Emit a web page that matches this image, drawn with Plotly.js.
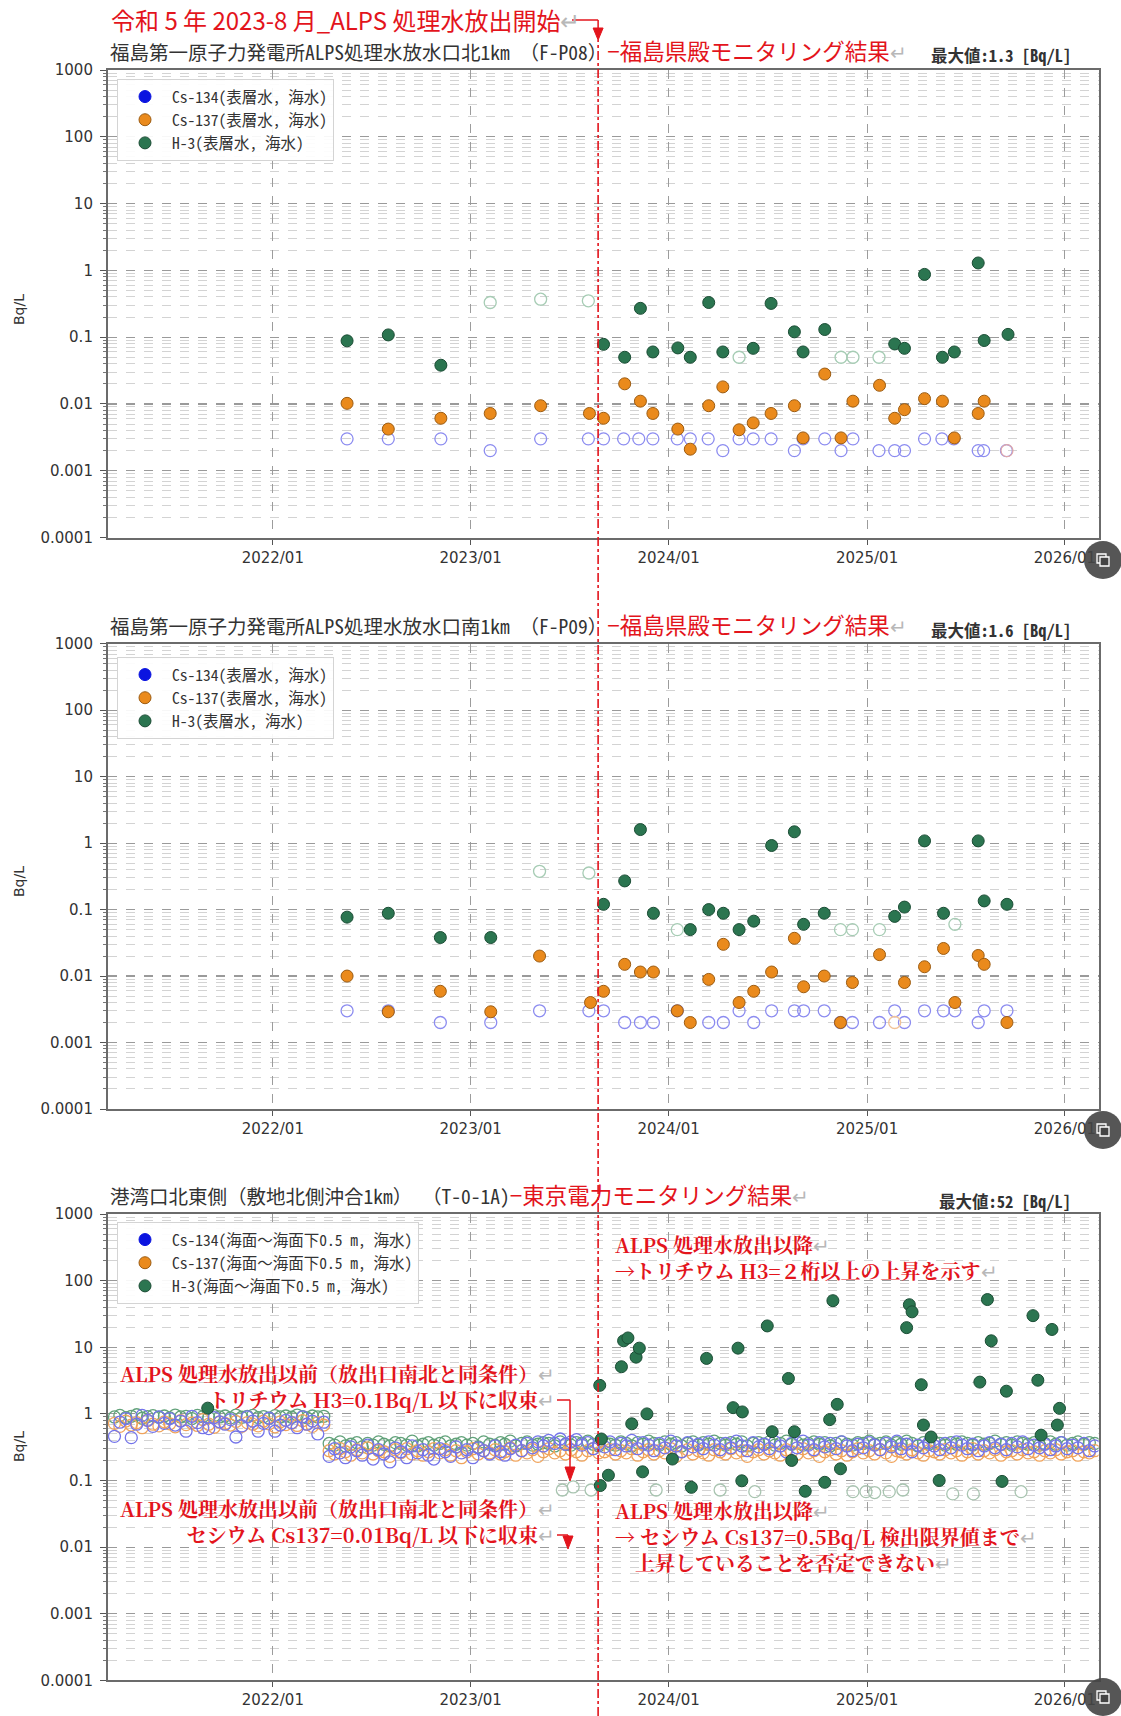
<!DOCTYPE html>
<html><head><meta charset="utf-8">
<script src="https://cdn.plot.ly/plotly-3.0.1.min.js"></script>
<style>html,body{margin:0;padding:0;background:#fff;} #chart{width:1121px;height:1716px;}</style>
</head><body><div id="chart"></div>
<script>
// ================= DATA =================
// --- F-P08 (north 1km) ---
const p08Cs134NdDates = ['2022-05-18','2022-08-02','2022-11-07','2023-02-06','2023-05-10','2023-08-06','2023-09-03','2023-10-10','2023-11-07','2023-12-03','2024-01-17','2024-02-10','2024-03-14','2024-04-10','2024-05-10','2024-06-05','2024-07-08','2024-08-20','2024-09-05','2024-10-15','2024-11-14','2024-12-06','2025-01-23','2025-02-21','2025-03-11','2025-04-17','2025-05-19','2025-06-10','2025-07-25','2025-08-04','2025-09-15'];
const p08Cs134NdVals = [0.003,0.003,0.003,0.002,0.003,0.003,0.003,0.003,0.003,0.003,0.003,0.003,0.003,0.002,0.003,0.003,0.003,0.002,0.003,0.003,0.002,0.003,0.002,0.002,0.002,0.003,0.003,0.003,0.002,0.002,0.002];
const p08Cs137Dates = ['2022-05-18','2022-08-02','2022-11-07','2023-02-06','2023-05-10','2023-08-08','2023-09-03','2023-10-12','2023-11-10','2023-12-03','2024-01-18','2024-02-10','2024-03-15','2024-04-10','2024-05-10','2024-06-05','2024-07-08','2024-08-20','2024-09-05','2024-10-15','2024-11-14','2024-12-06','2025-01-24','2025-02-21','2025-03-11','2025-04-17','2025-05-20','2025-06-11','2025-07-25','2025-08-05'];
const p08Cs137Vals = [0.0102,0.0042,0.0061,0.0072,0.0094,0.0072,0.0061,0.020,0.011,0.0072,0.0042,0.0021,0.0094,0.018,0.0041,0.0052,0.0072,0.0094,0.0031,0.028,0.0031,0.011,0.019,0.0061,0.0082,0.012,0.011,0.0031,0.0072,0.011];
const p08Cs137NdDates = ['2025-09-16'];
const p08Cs137NdVals = [0.002];
const p08H3Dates = ['2022-05-18','2022-08-02','2022-11-07','2023-09-03','2023-10-12','2023-11-10','2023-12-03','2024-01-18','2024-02-10','2024-03-15','2024-04-10','2024-06-05','2024-07-08','2024-08-20','2024-09-05','2024-10-15','2025-02-21','2025-03-11','2025-04-17','2025-05-20','2025-06-11','2025-07-25','2025-08-05','2025-09-18'];
const p08H3Vals = [0.088,0.108,0.038,0.078,0.05,0.27,0.06,0.069,0.05,0.33,0.06,0.068,0.32,0.12,0.06,0.13,0.079,0.068,0.87,0.05,0.06,1.29,0.089,0.11];
const p08H3NdDates = ['2023-02-06','2023-05-10','2023-08-06','2024-05-10','2024-11-14','2024-12-06','2025-01-23'];
const p08H3NdVals = [0.33,0.37,0.35,0.05,0.05,0.05,0.05];

// --- F-P09 (south 1km) ---
const p09Cs134NdDates = ['2022-05-18','2022-08-02','2022-11-06','2023-02-07','2023-05-08','2023-08-07','2023-09-03','2023-10-12','2023-11-10','2023-12-04','2024-01-17','2024-03-15','2024-04-11','2024-05-10','2024-06-06','2024-07-09','2024-08-20','2024-09-06','2024-10-14','2024-11-13','2024-12-05','2025-01-24','2025-02-21','2025-03-11','2025-04-17','2025-05-22','2025-06-12','2025-07-25','2025-08-05','2025-09-16'];
const p09Cs134NdVals = [0.003,0.003,0.002,0.002,0.003,0.003,0.003,0.002,0.002,0.002,0.003,0.002,0.002,0.003,0.002,0.003,0.003,0.003,0.003,0.002,0.002,0.002,0.003,0.002,0.003,0.003,0.003,0.002,0.003,0.003];
const p09Cs137Dates = ['2022-05-18','2022-08-02','2022-11-06','2023-02-07','2023-05-08','2023-08-10','2023-09-03','2023-10-12','2023-11-10','2023-12-04','2024-01-17','2024-02-10','2024-03-15','2024-04-11','2024-05-10','2024-06-06','2024-07-09','2024-08-20','2024-09-06','2024-10-14','2024-11-13','2024-12-05','2025-01-24','2025-03-11','2025-04-17','2025-05-22','2025-06-12','2025-07-25','2025-08-05','2025-09-16'];
const p09Cs137Vals = [0.01,0.0029,0.0059,0.0029,0.02,0.004,0.0059,0.015,0.0115,0.0115,0.003,0.002,0.0089,0.03,0.004,0.0059,0.0115,0.037,0.0069,0.01,0.002,0.008,0.021,0.008,0.0138,0.026,0.004,0.0204,0.015,0.002];
const p09Cs137NdDates = ['2025-02-21'];
const p09Cs137NdVals = [0.002];
const p09H3Dates = ['2022-05-18','2022-08-02','2022-11-06','2023-02-07','2023-09-03','2023-10-12','2023-11-10','2023-12-04','2024-02-10','2024-03-15','2024-04-11','2024-05-10','2024-06-06','2024-07-09','2024-08-20','2024-09-06','2024-10-14','2025-02-21','2025-03-11','2025-04-17','2025-05-22','2025-07-25','2025-08-05','2025-09-16'];
const p09H3Vals = [0.077,0.088,0.038,0.038,0.12,0.27,1.6,0.088,0.05,0.1,0.088,0.05,0.067,0.92,1.48,0.06,0.088,0.079,0.109,1.08,0.088,1.08,0.135,0.12];
const p09H3NdDates = ['2023-05-08','2023-08-07','2024-01-17','2024-11-13','2024-12-05','2025-01-24','2025-06-12'];
const p09H3NdVals = [0.377,0.355,0.05,0.05,0.05,0.05,0.06];

// --- T-0-1A (TEPCO) ---
const t01BandDates = ['2021-03-15','2021-03-25',
'2021-04-05','2021-04-15','2021-04-25','2021-05-05','2021-05-15','2021-05-25','2021-06-05','2021-06-15','2021-06-25','2021-07-05','2021-07-15','2021-07-25','2021-08-05','2021-08-15','2021-08-25','2021-09-05','2021-09-15','2021-09-25','2021-10-05','2021-10-15','2021-10-25','2021-11-05','2021-11-15','2021-11-25','2021-12-05','2021-12-15','2021-12-25',
'2022-01-05','2022-01-15','2022-01-25','2022-02-05','2022-02-15','2022-02-25','2022-03-05','2022-03-15','2022-03-25','2022-04-05','2022-04-15','2022-04-25','2022-05-05','2022-05-15','2022-05-25','2022-06-05','2022-06-15','2022-06-25','2022-07-05','2022-07-15','2022-07-25','2022-08-05','2022-08-15','2022-08-25','2022-09-05','2022-09-15','2022-09-25','2022-10-05','2022-10-15','2022-10-25','2022-11-05','2022-11-15','2022-11-25','2022-12-05','2022-12-15','2022-12-25',
'2023-01-05','2023-01-15','2023-01-25','2023-02-05','2023-02-15','2023-02-25','2023-03-05','2023-03-15','2023-03-25','2023-04-05','2023-04-15','2023-04-25','2023-05-05','2023-05-15','2023-05-25','2023-06-05','2023-06-15','2023-06-25','2023-07-05','2023-07-15','2023-07-25','2023-08-05','2023-08-15','2023-08-25','2023-09-05','2023-09-15','2023-09-25','2023-10-05','2023-10-15','2023-10-25','2023-11-05','2023-11-15','2023-11-25','2023-12-05','2023-12-15','2023-12-25',
'2024-01-05','2024-01-15','2024-01-25','2024-02-05','2024-02-15','2024-02-25','2024-03-05','2024-03-15','2024-03-25','2024-04-05','2024-04-15','2024-04-25','2024-05-05','2024-05-15','2024-05-25','2024-06-05','2024-06-15','2024-06-25','2024-07-05','2024-07-15','2024-07-25','2024-08-05','2024-08-15','2024-08-25','2024-09-05','2024-09-15','2024-09-25','2024-10-05','2024-10-15','2024-10-25','2024-11-05','2024-11-15','2024-11-25','2024-12-05','2024-12-15','2024-12-25',
'2025-01-05','2025-01-15','2025-01-25','2025-02-05','2025-02-15','2025-02-25','2025-03-05','2025-03-15','2025-03-25','2025-04-05','2025-04-15','2025-04-25','2025-05-05','2025-05-15','2025-05-25','2025-06-05','2025-06-15','2025-06-25','2025-07-05','2025-07-15','2025-07-25','2025-08-05','2025-08-15','2025-08-25','2025-09-05','2025-09-15','2025-09-25','2025-10-05','2025-10-15','2025-10-25','2025-11-05','2025-11-15','2025-11-25','2025-12-05','2025-12-15','2025-12-25',
'2026-01-05','2026-01-15','2026-01-25','2026-02-05','2026-02-15','2026-02-25'];
const t01H3NdBandVals = [
0.90,0.95,0.88,0.92,0.97,0.86,0.91,0.94,0.89,0.93,
0.87,0.96,0.90,0.92,0.85,0.95,0.91,0.88,0.94,0.90,
0.93,0.87,0.96,0.89,0.92,0.95,0.88,0.91,0.86,0.94,
0.90,0.93,0.89,0.96,0.91,0.87,0.93,0.90,0.92,
0.36,0.34,0.38,0.33,0.35,0.37,0.32,0.36,0.34,0.38,
0.35,0.33,0.37,0.36,0.34,0.39,0.33,0.35,0.37,0.34,
0.36,0.38,0.33,0.35,0.37,0.34,0.36,0.32,0.38,0.35,
0.34,0.37,0.35,0.39,0.33,0.36,0.38,0.34,0.35,0.37,
0.36,0.33,0.38,0.35,0.34,0.37,0.36,0.39,0.35,0.33,
0.37,0.35,0.34,0.38,0.36,0.33,0.37,0.35,0.39,0.36,
0.34,0.38,0.35,0.37,0.33,0.36,0.38,0.34,0.37,0.35,
0.39,0.36,0.34,0.37,0.35,0.38,0.33,0.36,0.37,0.35,
0.38,0.34,0.36,0.39,0.35,0.37,0.34,0.36,0.38,0.35,
0.37,0.33,0.36,0.38,0.35,0.34,0.37,0.36,0.39,0.35,
0.36,0.38,0.34,0.37,0.35,0.39,0.36,0.33,0.37,0.35,
0.38,0.36,0.34,0.37,0.35,0.38,0.36,0.34,0.37,0.35,
0.36,0.39,0.35,0.37,0.34,0.38,0.36,0.35,0.37,0.34,
0.36,0.38,0.35,0.37,0.34,0.36,0.38,0.35,0.37,0.36];
const t01Cs137NdBandVals = [
0.72,0.65,0.78,0.68,0.74,0.62,0.80,0.70,0.66,0.76,
0.71,0.64,0.79,0.69,0.73,0.67,0.82,0.70,0.63,0.75,
0.72,0.68,0.77,0.65,0.74,0.70,0.66,0.78,0.71,0.64,
0.76,0.69,0.73,0.67,0.79,0.70,0.65,0.74,0.68,
0.28,0.25,0.30,0.27,0.24,0.29,0.26,0.31,0.25,0.28,
0.27,0.23,0.29,0.26,0.30,0.25,0.28,0.24,0.27,0.30,
0.26,0.29,0.24,0.28,0.22,0.27,0.30,0.25,0.28,0.26,
0.29,0.25,0.27,0.31,0.24,0.28,0.26,0.29,0.23,0.27,
0.30,0.26,0.28,0.25,0.29,0.27,0.24,0.28,0.30,0.26,
0.27,0.29,0.25,0.28,0.26,0.30,0.24,0.27,0.29,0.25,
0.28,0.26,0.30,0.23,0.27,0.29,0.25,0.28,0.26,0.24,
0.29,0.27,0.25,0.30,0.26,0.28,0.23,0.27,0.29,0.25,
0.28,0.26,0.24,0.29,0.27,0.25,0.30,0.26,0.28,0.23,
0.27,0.29,0.25,0.28,0.24,0.27,0.30,0.26,0.28,0.25,
0.29,0.26,0.23,0.28,0.27,0.25,0.29,0.26,0.24,0.28,
0.27,0.25,0.29,0.26,0.28,0.24,0.27,0.30,0.25,0.28,
0.26,0.29,0.24,0.27,0.28,0.25,0.29,0.26,0.27,0.24,
0.28,0.26,0.29,0.25,0.27,0.28,0.24,0.27,0.26,0.28];
const t01Cs134NdBandVals = [
0.46,0.75,0.85,0.44,0.70,0.95,0.80,0.65,0.90,0.72,
0.85,0.68,0.78,0.55,0.92,0.74,0.62,0.60,0.88,0.76,
0.70,0.82,0.45,0.66,0.90,0.78,0.55,0.72,0.86,0.55,
0.68,0.80,0.74,0.62,0.90,0.70,0.78,0.50,0.75,
0.23,0.30,0.26,0.22,0.32,0.28,0.24,0.34,0.21,0.29,
0.25,0.19,0.31,0.27,0.22,0.33,0.26,0.29,0.24,0.21,
0.30,0.27,0.23,0.32,0.26,0.29,0.22,0.31,0.28,0.25,
0.33,0.27,0.24,0.30,0.34,0.28,0.36,0.31,0.38,0.33,
0.40,0.36,0.42,0.35,0.38,0.41,0.34,0.37,0.30,0.35,
0.32,0.38,0.29,0.36,0.33,0.40,0.30,0.37,0.34,0.28,
0.36,0.31,0.39,0.33,0.27,0.37,0.32,0.35,0.30,0.38,
0.34,0.29,0.36,0.31,0.39,0.33,0.28,0.37,0.32,0.35,
0.30,0.38,0.33,0.27,0.36,0.31,0.39,0.34,0.29,0.37,
0.32,0.36,0.30,0.38,0.33,0.28,0.35,0.31,0.37,0.34,
0.29,0.36,0.32,0.39,0.30,0.35,0.27,0.34,0.31,0.37,
0.33,0.29,0.36,0.31,0.38,0.34,0.30,0.35,0.28,0.33,
0.37,0.31,0.35,0.29,0.36,0.32,0.38,0.30,0.34,0.31,
0.35,0.29,0.33,0.37,0.30,0.34,0.31,0.36,0.28,0.33];
const t01H3NdLowDates = ['2023-06-19','2023-07-09','2023-08-11','2023-12-09','2024-04-05','2024-06-08','2024-12-06','2024-12-30','2025-01-15','2025-02-11','2025-03-08','2025-06-08','2025-07-16','2025-10-12'];
const t01H3NdLowVals = [0.072,0.08,0.072,0.072,0.072,0.068,0.068,0.068,0.066,0.068,0.072,0.063,0.063,0.068];
const t01H3Dates = ['2021-09-03','2023-08-27','2023-08-28','2023-08-30','2023-09-12','2023-10-06','2023-10-10','2023-10-18','2023-10-25','2023-11-02','2023-11-08','2023-11-14','2023-11-22','2024-01-08','2024-02-12','2024-03-11','2024-04-29','2024-05-08','2024-05-15','2024-05-16','2024-07-01','2024-07-10','2024-08-09','2024-08-15','2024-08-20','2024-09-09','2024-10-15','2024-10-24','2024-10-30','2024-11-07','2024-11-13','2025-03-15','2025-03-20','2025-03-25','2025-04-11','2025-04-15','2025-04-29','2025-05-14','2025-07-28','2025-08-11','2025-08-18','2025-09-07','2025-09-15','2025-11-03','2025-11-12','2025-11-18','2025-12-08','2025-12-18','2025-12-22'];
const t01H3Vals = [1.22,2.68,0.084,0.42,0.12,5.1,12.5,13.8,0.71,7.1,9.7,0.135,1.0,0.21,0.079,6.8,1.24,9.7,0.099,1.07,20.9,0.54,3.4,0.2,0.54,0.069,0.094,0.82,50,1.39,0.15,19.7,43.5,34,2.74,0.68,0.45,0.1,3.0,52,12.5,0.097,2.19,29.8,3.2,0.48,18.5,0.68,1.21];
// series with no detected values (legend entry only)
const noDetectX = [null];
const noDetectY = [null];

// labels
const legendLabelsSurface = ['Cs-134(表層水, 海水)','Cs-137(表層水, 海水)','H-3(表層水, 海水)'];
const legendLabelsSea = ['Cs-134(海面～海面下0.5 m, 海水)','Cs-137(海面～海面下0.5 m, 海水)','H-3(海面～海面下0.5 m, 海水)'];
const chartTitles = ['福島第一原子力発電所ALPS処理水放水口北1km （F-P08）','福島第一原子力発電所ALPS処理水放水口南1km （F-P09）','港湾口北東側（敷地北側沖合1km） （T-0-1A)'];
const chartTitleSuffix = ['−福島県殿モニタリング結果','−福島県殿モニタリング結果','−東京電力モニタリング結果'];
const maxLabels = ['最大値:1.3 [Bq/L]','最大値:1.6 [Bq/L]','最大値:52 [Bq/L]'];
const releaseDate = '2023-08-24';

// ================= LAYOUT HELPERS =================
const W = 1121, H = 1716;
const px = v => v / W, py = v => 1 - v / H;
const XDOM = [0.0963, 0.980];
const XRANGE = ['2021-03-03', '2026-03-04'];
const toPaperX = d => { const t = Date.parse(d), a = Date.parse(XRANGE[0]), b = Date.parse(XRANGE[1]); return XDOM[0] + (t - a) / (b - a) * (XDOM[1] - XDOM[0]); };
const xr = toPaperX(releaseDate);
const RED = '#e3141c';
const GRAYRET = '<span style="color:#b8b8b8;font-weight:normal">↵</span>';
const F_MONO = '"Noto Sans Mono CJK JP", "Noto Sans CJK JP", sans-serif';
const F_JP = '"Noto Sans CJK JP", sans-serif';
const F_SERIF = '"Noto Serif CJK JP", "Liberation Serif", "Noto Sans CJK JP", serif';
const F_TICK = '"DejaVu Sans", sans-serif';

const C = {
  cs134: '#0b14e0', cs137: '#ea8a1c', cs137Edge: '#9c5c12', h3: '#2b7550', h3Edge: '#1b4d35',
  nd134: '#8c8cf0', nd137: '#f2c396', ndH3: '#a6ccb4',
  band134: '#7474ea', band137: '#f0a45c', bandH3: '#62a27a', lowH3: '#a8c4b0'
};

const traces = [];
function nd(x, y, color, ax, legend) {
  traces.push({type:'scatter', mode:'markers', x, y, xaxis:'x'+ax, yaxis:'y'+ax, legend, showlegend:false,
    marker:{symbol:'circle-open', size:12, color, line:{width:1.3, color}}, hoverinfo:'skip'});
}
function det(x, y, name, fill, edge, ax, legend) {
  traces.push({type:'scatter', mode:'markers', x, y, name, xaxis:'x'+ax, yaxis:'y'+ax, legend, showlegend:true,
    marker:{symbol:'circle', size:12, color:fill, line:{width:1, color:edge}}, hoverinfo:'skip'});
}
// chart 1
nd(p08Cs134NdDates, p08Cs134NdVals, C.nd134, '', 'legend');
nd(p08Cs137NdDates, p08Cs137NdVals, '#e0a8a8', '', 'legend');
nd(p08H3NdDates, p08H3NdVals, C.ndH3, '', 'legend');
det(noDetectX, noDetectY, legendLabelsSurface[0], C.cs134, C.cs134, '', 'legend');
det(p08Cs137Dates, p08Cs137Vals, legendLabelsSurface[1], C.cs137, C.cs137Edge, '', 'legend');
det(p08H3Dates, p08H3Vals, legendLabelsSurface[2], C.h3, C.h3Edge, '', 'legend');
// chart 2
nd(p09Cs134NdDates, p09Cs134NdVals, C.nd134, '2', 'legend2');
nd(p09Cs137NdDates, p09Cs137NdVals, C.nd137, '2', 'legend2');
nd(p09H3NdDates, p09H3NdVals, C.ndH3, '2', 'legend2');
det(noDetectX, noDetectY, legendLabelsSurface[0], C.cs134, C.cs134, '2', 'legend2');
det(p09Cs137Dates, p09Cs137Vals, legendLabelsSurface[1], C.cs137, C.cs137Edge, '2', 'legend2');
det(p09H3Dates, p09H3Vals, legendLabelsSurface[2], C.h3, C.h3Edge, '2', 'legend2');
// chart 3
nd(t01BandDates, t01H3NdBandVals, C.bandH3, '3', 'legend3');
nd(t01BandDates, t01Cs137NdBandVals, C.band137, '3', 'legend3');
nd(t01BandDates, t01Cs134NdBandVals, C.band134, '3', 'legend3');
nd(t01H3NdLowDates, t01H3NdLowVals, C.lowH3, '3', 'legend3');
det(noDetectX, noDetectY, legendLabelsSea[0], C.cs134, C.cs134, '3', 'legend3');
det(noDetectX, noDetectY, legendLabelsSea[1], C.cs137, C.cs137Edge, '3', 'legend3');
det(t01H3Dates, t01H3Vals, legendLabelsSea[2], C.h3, C.h3Edge, '3', 'legend3');

const YDOMS = [[py(537.5), py(70)], [py(1109), py(643.7)], [py(1680.4), py(1214)]];
function xAx(anchor) {
  return {type:'date', domain:XDOM, range:XRANGE, anchor, tick0:'2022-01-01', dtick:'M12', tickformat:'%Y/%m',
    showgrid:true, gridcolor:'#9c9c9c', griddash:'dash', gridwidth:1, showline:true, mirror:true,
    linecolor:'#6b6b6b', linewidth:2, ticks:'outside', ticklen:5, tickcolor:'#555',
    tickfont:{family:F_TICK, size:15, color:'#333'}, zeroline:false, fixedrange:true};
}
function yAx(dom, anchor) {
  return {type:'log', domain:dom, range:[-4,3], anchor, dtick:1, tick0:0, exponentformat:'none',
    showgrid:true, gridcolor:'#9a9a9a', griddash:'dash', gridwidth:1.2,
    minor:{ticks:'outside', ticklen:3, tickcolor:'#777', showgrid:true, gridcolor:'#d3d3d3', griddash:'dash', gridwidth:1},
    showline:true, mirror:true, linecolor:'#6b6b6b', linewidth:2, ticks:'outside', ticklen:6, tickcolor:'#555',
    ticklabelstandoff:4, tickfont:{family:F_TICK, size:15, color:'#333'}, zeroline:false, fixedrange:true};
}
function leg(yTop) {
  return {x:px(117), y:py(yTop), xanchor:'left', yanchor:'top', bgcolor:'rgba(255,255,255,0.92)',
    bordercolor:'#d4d4d4', borderwidth:1, font:{family:F_MONO, size:15.5, color:'#333'}, itemwidth:44, traceorder:'normal'};
}

const ann = [];
function txt(x, y, text, opt) {
  ann.push(Object.assign({xref:'paper', yref:'paper', x:px(x), y:py(y), text, showarrow:false,
    xanchor:'left', yanchor:'middle'}, opt));
}
// header
txt(109, 19, '令和 5 年 2023-8 月_ALPS 処理水放出開始' + GRAYRET, {font:{family:F_JP, size:24, color:RED}});
// chart titles
const titleY = [50, 624, 1194];
const maxY = [55, 630, 1201];
const bqY = [310, 882, 1447];
for (let i = 0; i < 3; i++) {
  txt(108, titleY[i], '<span style="color:#333">' + chartTitles[i] + '</span><span style="color:' + RED + ';font-size:22.5px">' + chartTitleSuffix[i] + '</span>' + GRAYRET,
      {font:{family:F_MONO, size:19.5, color:'#333'}});
  txt(1073, maxY[i], maxLabels[i], {xanchor:'right', font:{family:F_MONO, size:16.5, color:'#333', weight:'bold'}});
  txt(19, bqY[i], 'Bq/L', {xanchor:'center', textangle:-90, font:{family:F_TICK, size:14, color:'#333'}});
}
// chart 3 commentary (multi-line blocks; line pitch 1.3 x 20px = 26px)
const fS = {family:F_SERIF, size:20, color:RED, weight:'bold'};
txt(557, 1386, 'ALPS 処理水放出以前（放出口南北と同条件）' + GRAYRET + '<br>トリチウム H3=0.1Bq/L 以下に収束' + GRAYRET,
    {xanchor:'right', align:'right', font:fS});
txt(557, 1521.5, 'ALPS 処理水放出以前（放出口南北と同条件）' + GRAYRET + '<br>セシウム Cs137=0.01Bq/L 以下に収束' + GRAYRET,
    {xanchor:'right', align:'right', font:fS});
txt(613, 1257, 'ALPS 処理水放出以降' + GRAYRET + '<br>→トリチウム H3=２桁以上の上昇を示す' + GRAYRET,
    {align:'left', font:fS});
txt(613, 1536, 'ALPS 処理水放出以降' + GRAYRET + '<br>→ セシウム Cs137=0.5Bq/L 検出限界値まで' + GRAYRET + '<br>　上昇していることを否定できない' + GRAYRET,
    {align:'left', font:fS});

// shapes
const shapes = [];
function seg(x0, y0, x1, y1, dash, w) {
  shapes.push({type:'line', xref:'paper', yref:'paper', x0, y0, x1, y1, layer:'above', line:{color:RED, width:w || 1.5, dash:dash || 'solid'}});
}
function tri(xc, yBase, yTip) {
  const hw = 5 / W;
  shapes.push({type:'path', xref:'paper', yref:'paper', layer:'above', fillcolor:RED, line:{color:RED, width:1},
    path:`M ${xc - hw},${yBase} L ${xc + hw},${yBase} L ${xc},${yTip} Z`});
}
seg(xr, 0, xr, py(40), 'dashdot', 1.6);
seg(px(572), py(20), xr, py(20));
seg(xr, py(20), xr, py(30));
tri(xr, py(28), py(40));
// chart 3 arrows
seg(px(557), py(1400), px(570), py(1400));
seg(px(570), py(1400), px(570), py(1468));
tri(px(570), py(1467), py(1481));
seg(px(557), py(1535), px(568), py(1535));
seg(px(568), py(1535), px(568), py(1538));
tri(px(568), py(1536), py(1549));
// corner icons
[560, 1130, 1697].forEach(cy => {
  shapes.push({type:'circle', xref:'paper', yref:'paper', layer:'above', x0:px(1084), x1:px(1122), y0:py(cy + 19), y1:py(cy - 19),
    fillcolor:'rgba(68,68,68,0.9)', line:{width:0}});
  shapes.push({type:'rect', xref:'paper', yref:'paper', layer:'above', x0:px(1097), x1:px(1106), y0:py(cy + 3), y1:py(cy - 6),
    line:{color:'#fff', width:1.3}});
  shapes.push({type:'rect', xref:'paper', yref:'paper', layer:'above', x0:px(1100), x1:px(1109), y0:py(cy + 6), y1:py(cy - 3),
    fillcolor:'rgba(68,68,68,1)', line:{color:'#fff', width:1.3}});
});

const layout = {
  width:W, height:H, margin:{l:0, r:0, t:0, b:0}, paper_bgcolor:'#fff', plot_bgcolor:'#fff',
  font:{family:F_TICK, color:'#333'}, hovermode:false,
  xaxis:xAx('y'), yaxis:yAx(YDOMS[0], 'x'),
  xaxis2:xAx('y2'), yaxis2:yAx(YDOMS[1], 'x2'),
  xaxis3:xAx('y3'), yaxis3:yAx(YDOMS[2], 'x3'),
  legend:leg(79), legend2:leg(657), legend3:leg(1222),
  annotations:ann, shapes:shapes
};
Plotly.newPlot('chart', traces, layout, {staticPlot:true, displayModeBar:false});
</script></body></html>
